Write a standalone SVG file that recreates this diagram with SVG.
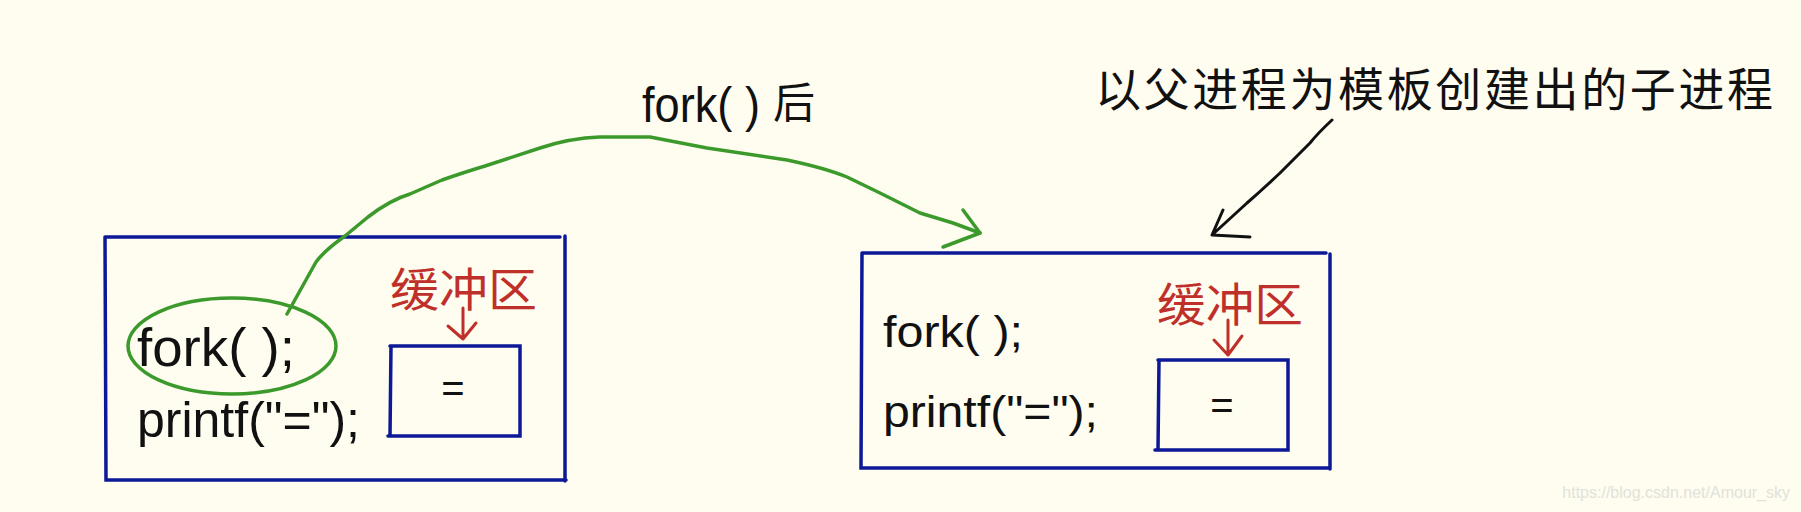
<svg xmlns="http://www.w3.org/2000/svg" width="1801" height="512" viewBox="0 0 1801 512">
<style>
.box{fill:none;stroke:#0c1896;stroke-width:3.5;stroke-linecap:round}
.code{font-family:"Liberation Sans","DejaVu Sans",sans-serif;fill:#111}
.red{font-family:"Noto Sans CJK SC",sans-serif;fill:#c0302a}
.redline{fill:none;stroke:#c0302a;stroke-width:3;stroke-linecap:round;stroke-linejoin:round}
.green{fill:none;stroke:#3c9a2c;stroke-width:3.5;stroke-linecap:round;stroke-linejoin:round}
.blk{fill:none;stroke:#111;stroke-width:3;stroke-linecap:round;stroke-linejoin:round}
.cn{font-family:"Noto Sans CJK SC",sans-serif;fill:#111}
</style>
<rect width="1801" height="512" fill="#fefdf0"/>
<g id="parent">
<path class="box" d="M105 237 L560 237 M565 236 L565 481 M105 237 L106 480 L566 480"/>
<text class="code" x="137" y="366" font-size="54" textLength="158" lengthAdjust="spacingAndGlyphs">fork( );</text>
<text class="code" x="137" y="437" font-size="50" textLength="223" lengthAdjust="spacingAndGlyphs">printf("=");</text>
<g id="parent-buffer">
<path class="box" d="M390 346 L520 346 L520 436 L388 436 M391 346 L390 436"/>
<text class="code" x="453" y="402" font-size="40" text-anchor="middle">=</text>
<text class="red" x="390" y="306" font-size="46" textLength="147" lengthAdjust="spacingAndGlyphs">缓冲区</text>
<path class="redline" d="M463 308 L463 339 M448 326 L463 339 L476 323"/>
</g>
</g>
<g id="child">
<path class="box" d="M862 253 L1326 253 M1330 254 L1330 469 M862 253 L861 468 L1330 468"/>
<text class="code" x="883" y="347" font-size="44" textLength="140" lengthAdjust="spacingAndGlyphs">fork( );</text>
<text class="code" x="883" y="427" font-size="44" textLength="215" lengthAdjust="spacingAndGlyphs">printf("=");</text>
<g id="child-buffer">
<path class="box" d="M1158 360 L1288 360 L1288 450 L1155 450 M1159 360 L1158 450"/>
<text class="code" x="1222" y="419" font-size="40" text-anchor="middle">=</text>
<text class="red" x="1157" y="321" font-size="46" textLength="146" lengthAdjust="spacingAndGlyphs">缓冲区</text>
<path class="redline" d="M1228 320 L1228 355 M1214 340 L1228 355 L1242 336"/>
</g>
</g>
<g id="note">
<text class="cn" x="1095" y="106" font-size="46" textLength="678" lengthAdjust="spacing">以父进程为模板创建出的子进程</text>
</g>
<g id="connectors">
<ellipse class="green" cx="232" cy="346" rx="104" ry="48"/>
<path class="green" d="M287 314 L316 262 Q325 250 345 236 L368 217 Q390 200 410 194 L442 180 Q465 172 485 166 L540 148 Q570 138 600 137 L650 137 L707 148 L787 160 Q825 168 847 177 L880 193 L920 213 L953 223 L980 233"/>
<path class="green" d="M963 210 L980 233 L943 247"/>
<text class="code" x="642" y="122" font-size="50" textLength="118" lengthAdjust="spacingAndGlyphs">fork( )</text>
<text class="cn" x="773" y="118" font-size="42">后</text>
<path class="blk" d="M1332 120 Q1318 133 1310 143 Q1295 158 1280 173 Q1262 190 1247 203 L1212 235 M1223 210 L1212 235 L1250 237"/>
</g>
<text x="1790" y="498" font-family="Liberation Sans,sans-serif" font-size="16" fill="#e2e2da" text-anchor="end">https://blog.csdn.net/Amour_sky</text>
</svg>
